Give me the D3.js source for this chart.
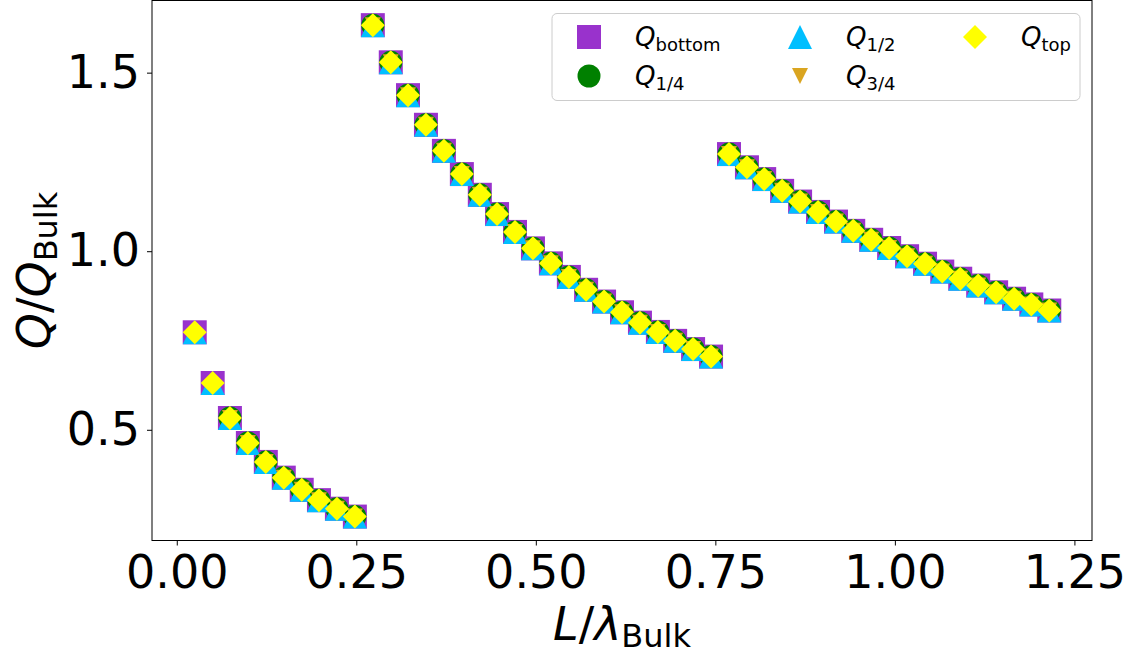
<!doctype html>
<html>
  <head>
    <meta charset="utf-8">
    <title>Q / Q_Bulk vs L / lambda_Bulk</title>
    <script src="https://cdnjs.cloudflare.com/ajax/libs/d3/7.8.5/d3.min.js"></script>
    <style>
      body { margin: 0; background: #fff; }
      svg { display: block; font-family: 'DejaVu Sans', sans-serif; }
    </style>
  </head>
  <body>
    <div id="chart"></div>

    <script>
      // ticks
      const xTicks = [0, 0.25, 0.5, 0.75, 1.0, 1.25];
      const yTicks = [0.5, 1.0, 1.5];

      // L / lambda_Bulk (three branches: 10 + 20 + 19 points)
      const lRatio = [
        0.025, 0.050, 0.074, 0.099, 0.124, 0.149, 0.174, 0.198, 0.223, 0.248,
        0.273, 0.298, 0.322, 0.347, 0.372, 0.397, 0.422, 0.446, 0.471, 0.496,
        0.521, 0.546, 0.570, 0.595, 0.620, 0.645, 0.670, 0.694, 0.719, 0.744,
        0.769, 0.794, 0.818, 0.843, 0.868, 0.893, 0.918, 0.942, 0.967, 0.992,
        1.017, 1.042, 1.066, 1.091, 1.116, 1.141, 1.166, 1.190, 1.215
      ];

      // Q / Q_Bulk (the five series sit on top of each other)
      const qRatio = [
        0.773, 0.631, 0.533, 0.463, 0.410, 0.366, 0.332, 0.303, 0.279, 0.257,
        1.633, 1.529, 1.437, 1.354, 1.281, 1.216, 1.158, 1.104, 1.054, 1.008,
        0.966, 0.928, 0.892, 0.859, 0.829, 0.800, 0.774, 0.749, 0.726, 0.705,
        1.272, 1.235, 1.202, 1.169, 1.139, 1.110, 1.083, 1.057, 1.032, 1.009,
        0.986, 0.965, 0.943, 0.923, 0.904, 0.885, 0.867, 0.851, 0.834
      ];

      const qBottom = qRatio;
      const qQuarter = [null, null, ...qRatio.slice(2)];   // no 1/4 point for the two shortest L
      const qHalf = qRatio;
      const qThreeQuarter = [null, null, ...qRatio.slice(2)];
      const qTop = qRatio;

      const seriesLabels = ['bottom', '1/4', '1/2', '3/4', 'top'];
      const seriesValues = [qBottom, qQuarter, qHalf, qThreeQuarter, qTop];

      // marker look per series
      const styles = [
        { shape: 'square',  color: '#9932CC', size: 24 },
        { shape: 'circle',  color: '#008000', size: 23 },
        { shape: 'triUp',   color: '#00BFFF', size: 24 },
        { shape: 'triDown', color: '#DAA520', size: 16 },
        { shape: 'diamond', color: '#FFFF00', size: 24 }
      ];

      function markerPath(shape, s) {
        const h = s / 2;
        if (shape === 'square') return `M${-h},${-h}h${s}v${s}h${-s}Z`;
        if (shape === 'triUp') return `M0,${-h}L${h},${h}L${-h},${h}Z`;
        if (shape === 'triDown') return `M0,${h}L${h},${-h}L${-h},${-h}Z`;
        if (shape === 'diamond') return `M0,${-h}L${h},0L0,${h}L${-h},0Z`;
        // circle
        return `M${h},0A${h},${h} 0 1,1 ${-h},0A${h},${h} 0 1,1 ${h},0Z`;
      }

      const W = 1139, H = 656;
      const plotLeft = 152, plotRight = 1092, plotTop = 0.5, plotBottom = 540.5;

      const x = d3.scaleLinear().domain([-0.0345, 1.2745]).range([plotLeft, plotRight]);
      const y = d3.scaleLinear().domain([0.19, 1.702]).range([plotBottom, plotTop]);

      const svg = d3.select('#chart')
        .append('svg')
        .attr('width', W)
        .attr('height', H);

      // points, one series after the other (like matplotlib)
      seriesValues.forEach(function(vals, si) {
        const st = styles[si];
        const pts = lRatio.map((l, i) => ({ l: l, q: vals[i] })).filter(d => d.q != null);
        svg.append('g')
          .selectAll('path')
          .data(pts)
          .join('path')
          .attr('transform', d => `translate(${x(d.l)},${y(d.q)})`)
          .attr('d', markerPath(st.shape, st.size))
          .attr('fill', st.color);
      });

      // axes
      const fontSize = 46;
      const xAxis = svg.append('g')
        .attr('transform', `translate(0,${plotBottom})`)
        .call(d3.axisBottom(x).tickValues(xTicks).tickFormat(d3.format('.2f')).tickSize(5).tickPadding(10));
      const yAxis = svg.append('g')
        .attr('transform', `translate(${plotLeft},0)`)
        .call(d3.axisLeft(y).tickValues(yTicks).tickFormat(d3.format('.1f')).tickSize(5).tickPadding(7));

      [xAxis, yAxis].forEach(function(ax) {
        ax.select('.domain').remove();
        ax.selectAll('.tick line').attr('stroke', '#000').attr('stroke-width', 1);
        ax.selectAll('.tick text')
          .attr('fill', '#000')
          .style('font-size', fontSize + 'px')
          .style('font-family', 'DejaVu Sans');
      });

      // frame
      svg.append('rect')
        .attr('x', plotLeft).attr('y', plotTop)
        .attr('width', plotRight - plotLeft).attr('height', plotBottom - plotTop)
        .attr('fill', 'none')
        .attr('stroke', '#000')
        .attr('stroke-width', 1);

      // axis labels
      const xl = svg.append('text')
        .attr('x', (plotLeft + plotRight) / 2)
        .attr('y', 640)
        .attr('text-anchor', 'middle')
        .style('font-size', fontSize + 'px');
      xl.append('tspan').style('font-style', 'italic').text('L');
      xl.append('tspan').text('/');
      xl.append('tspan').style('font-style', 'italic').text('λ');
      xl.append('tspan').attr('dy', 7).style('font-size', '32px').text('Bulk');

      const yl = svg.append('text')
        .attr('transform', `translate(50,${(plotTop + plotBottom) / 2}) rotate(-90)`)
        .attr('text-anchor', 'middle')
        .style('font-size', fontSize + 'px');
      yl.append('tspan').style('font-style', 'italic').text('Q');
      yl.append('tspan').text('/');
      yl.append('tspan').style('font-style', 'italic').text('Q');
      yl.append('tspan').attr('dy', 7).style('font-size', '32px').text('Bulk');

      // legend (3 columns, filled column by column)
      const legend = svg.append('g');
      legend.append('rect')
        .attr('x', 552).attr('y', 13.5)
        .attr('width', 528).attr('height', 87)
        .attr('rx', 5)
        .attr('fill', '#fff').attr('fill-opacity', 0.8)
        .attr('stroke', '#cccccc').attr('stroke-width', 1);

      const colX = [589, 800, 975];
      const rowY = [37, 76];
      seriesLabels.forEach(function(lab, si) {
        const cx = colX[Math.floor(si / 2)], cy = rowY[si % 2];
        const st = styles[si];
        legend.append('path')
          .attr('transform', `translate(${cx},${cy})`)
          .attr('d', markerPath(st.shape, st.size))
          .attr('fill', st.color);
        const t = legend.append('text')
          .attr('x', cx + 46)
          .attr('y', cy + 9)
          .style('font-size', '26px');
        t.append('tspan').style('font-style', 'italic').text('Q');
        t.append('tspan').attr('dy', 5).style('font-size', '18px').text(lab);
      });
    </script>
  </body>
</html>
